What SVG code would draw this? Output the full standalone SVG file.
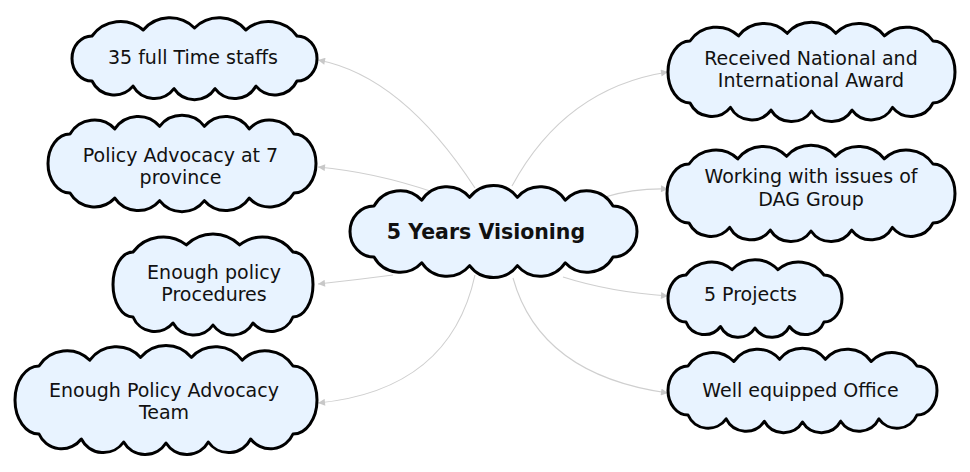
<svg xmlns="http://www.w3.org/2000/svg" width="970" height="472" viewBox="0 0 970 472">
<style>
.cloud{fill:#e8f3ff;stroke:#000;stroke-width:3;stroke-linejoin:round}
.lbl{font-family:"DejaVu Sans",Verdana,sans-serif;font-size:19px;fill:#111;text-anchor:middle}
.main{font-family:"DejaVu Sans",Verdana,sans-serif;font-size:20.5px;font-weight:bold;fill:#111;text-anchor:middle}
.conn{fill:none;stroke:#cfcfcf;stroke-width:1.1;marker-end:url(#arr)}
</style>
<defs>
<marker id="arr" viewBox="0 0 10 10" refX="10" refY="5" markerWidth="9" markerHeight="7" markerUnits="userSpaceOnUse" orient="auto">
<path d="M0 0L10 5L0 10z" fill="#c8c8c8"/>
</marker>
</defs>
<rect width="970" height="472" fill="#fff"/>
<g id="connectors">
<path class="conn" d="M475 188Q402 76 318 60"/>
<path class="conn" d="M433 192Q374 172 318 167"/>
<path class="conn" d="M393 275Q355 280 318 284"/>
<path class="conn" d="M475 275Q450 390 318 403"/>
<path class="conn" d="M512 186Q565 88 668 72"/>
<path class="conn" d="M605 197Q635 188 668 189"/>
<path class="conn" d="M563 277Q610 292 668 296"/>
<path class="conn" d="M513 278Q540 375 668 393"/>
</g>
<g id="node-center">
<path class="cloud" d="M374 206A29.8 29.8 0 0 1 421.8 200.2A29.8 29.8 0 0 1 469.6 197.4A29.8 29.8 0 0 1 517.4 197.4A29.8 29.8 0 0 1 565.2 200.2A29.8 29.8 0 0 1 613 206A24 25.5 0 0 1 613 257A29.8 29.8 0 0 1 565.2 262.8A29.8 29.8 0 0 1 517.4 265.6A29.8 29.8 0 0 1 469.6 265.6A29.8 29.8 0 0 1 421.8 262.8A29.8 29.8 0 0 1 374 257A24 25.5 0 0 1 374 206Z"/>
<text class="main" x="486" y="239">5 Years Visioning</text>
</g>
<g id="node-staffs">
<path class="cloud" d="M92 36A35 35 0 0 1 143.25 30A35 35 0 0 1 194.5 28A35 35 0 0 1 245.75 30A35 35 0 0 1 297 36A20 22.5 0 0 1 297 81A24.6 24.6 0 0 1 256 86.1A24.6 24.6 0 0 1 215 88.7A24.6 24.6 0 0 1 174 88.7A24.6 24.6 0 0 1 133 86.1A24.6 24.6 0 0 1 92 81A20 22.5 0 0 1 92 36Z"/>
<text class="lbl" x="193" y="64">35 full Time staffs</text>
</g>
<g id="node-province">
<path class="cloud" d="M70 134A28.3 28.3 0 0 1 114.8 128.9A28.3 28.3 0 0 1 159.6 126.3A28.3 28.3 0 0 1 204.4 126.3A28.3 28.3 0 0 1 249.2 128.9A28.3 28.3 0 0 1 294 134A22 29.5 0 0 1 294 193A28.3 28.3 0 0 1 249.2 198.1A28.3 28.3 0 0 1 204.4 200.7A28.3 28.3 0 0 1 159.6 200.7A28.3 28.3 0 0 1 114.8 198.1A28.3 28.3 0 0 1 70 193A22 29.5 0 0 1 70 134Z"/>
<text class="lbl" x="180.5" y="162">Policy Advocacy at 7</text>
<text class="lbl" x="180.5" y="184">province</text>
</g>
<g id="node-procedures">
<path class="cloud" d="M133 252A37.8 37.8 0 0 1 186.33 244.9A37.8 37.8 0 0 1 239.67 244.9A37.8 37.8 0 0 1 293 252A20 32.5 0 0 1 293 317A23.7 23.7 0 0 1 253 323A23.7 23.7 0 0 1 213 325A23.7 23.7 0 0 1 173 323A23.7 23.7 0 0 1 133 317A20 32.5 0 0 1 133 252Z"/>
<text class="lbl" x="214" y="279">Enough policy</text>
<text class="lbl" x="214" y="301">Procedures</text>
</g>
<g id="node-team">
<path class="cloud" d="M39 366A32.9 32.9 0 0 1 89.8 360.2A32.9 32.9 0 0 1 140.6 357.4A32.9 32.9 0 0 1 191.4 357.4A32.9 32.9 0 0 1 242.2 360.2A32.9 32.9 0 0 1 293 366A24 34 0 0 1 293 434A24.7 24.7 0 0 1 250.67 439A24.7 24.7 0 0 1 208.33 442A24.7 24.7 0 0 1 166 443A24.7 24.7 0 0 1 123.67 442A24.7 24.7 0 0 1 81.33 439A24.7 24.7 0 0 1 39 434A24 34 0 0 1 39 366Z"/>
<text class="lbl" x="164" y="397">Enough Policy Advocacy</text>
<text class="lbl" x="164" y="419">Team</text>
</g>
<g id="node-award">
<path class="cloud" d="M690 41A32.3 32.3 0 0 1 738.6 35.9A32.3 32.3 0 0 1 787.2 33.3A32.3 32.3 0 0 1 835.8 33.3A32.3 32.3 0 0 1 884.4 35.9A32.3 32.3 0 0 1 933 41A22 31 0 0 1 933 103A24.1 24.1 0 0 1 892.5 107.4A24.1 24.1 0 0 1 852 110.1A24.1 24.1 0 0 1 811.5 111A24.1 24.1 0 0 1 771 110.1A24.1 24.1 0 0 1 730.5 107.4A24.1 24.1 0 0 1 690 103A22 31 0 0 1 690 41Z"/>
<text class="lbl" x="811" y="65">Received National and</text>
<text class="lbl" x="811" y="87">International Award</text>
</g>
<g id="node-dag">
<path class="cloud" d="M689 164A32.5 32.5 0 0 1 737.8 158.9A32.5 32.5 0 0 1 786.6 156.3A32.5 32.5 0 0 1 835.4 156.3A32.5 32.5 0 0 1 884.2 158.9A32.5 32.5 0 0 1 933 164A22 29.5 0 0 1 933 223A24.3 24.3 0 0 1 892.33 227.4A24.3 24.3 0 0 1 851.67 230.1A24.3 24.3 0 0 1 811 231A24.3 24.3 0 0 1 770.33 230.1A24.3 24.3 0 0 1 729.67 227.4A24.3 24.3 0 0 1 689 223A22 29.5 0 0 1 689 164Z"/>
<text class="lbl" x="811" y="183">Working with issues of</text>
<text class="lbl" x="811" y="206">DAG Group</text>
</g>
<g id="node-projects">
<path class="cloud" d="M686 275A31.5 31.5 0 0 1 732 269.7A31.5 31.5 0 0 1 778 269.7A31.5 31.5 0 0 1 824 275A18 23.5 0 0 1 824 322A19.9 19.9 0 0 1 789.5 326.5A19.9 19.9 0 0 1 755 328A19.9 19.9 0 0 1 720.5 326.5A19.9 19.9 0 0 1 686 322A18 23.5 0 0 1 686 275Z"/>
<text class="lbl" x="750.5" y="301">5 Projects</text>
</g>
<g id="node-office">
<path class="cloud" d="M688 366A29.3 29.3 0 0 1 733.8 361.5A29.3 29.3 0 0 1 779.6 359.3A29.3 29.3 0 0 1 825.4 359.3A29.3 29.3 0 0 1 871.2 361.5A29.3 29.3 0 0 1 917 366A20 24.5 0 0 1 917 415A22 22 0 0 1 878.83 418.9A22 22 0 0 1 840.67 421.2A22 22 0 0 1 802.5 422A22 22 0 0 1 764.33 421.2A22 22 0 0 1 726.17 418.9A22 22 0 0 1 688 415A20 24.5 0 0 1 688 366Z"/>
<text class="lbl" x="800.5" y="397">Well equipped Office</text>
</g>
</svg>
